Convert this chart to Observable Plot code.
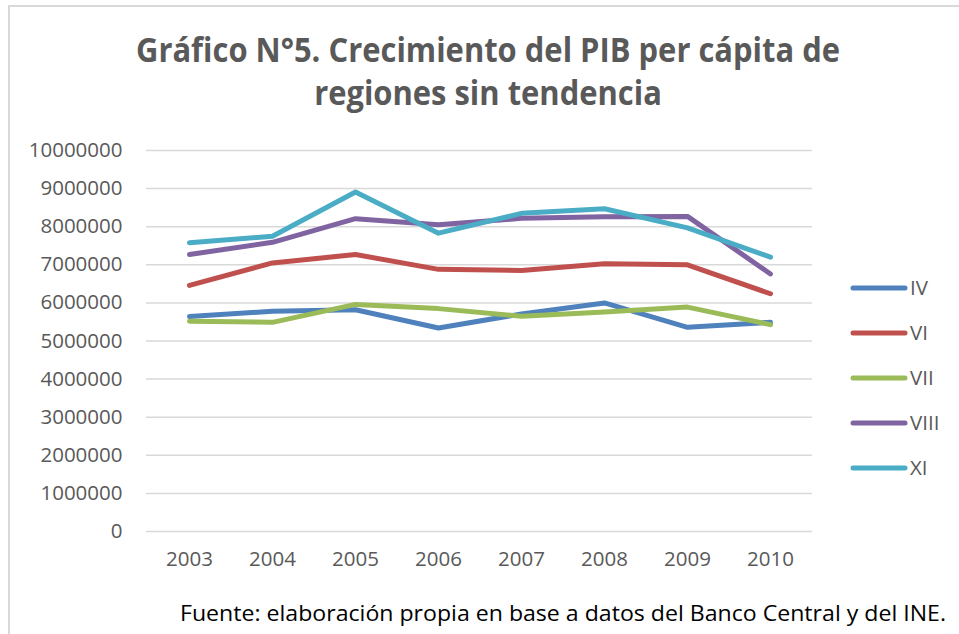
<!DOCTYPE html>
<html>
<head>
<meta charset="utf-8">
<script src="https://cdn.jsdelivr.net/npm/d3@7"></script>
<script src="https://cdn.jsdelivr.net/npm/@observablehq/plot@0.6"></script>
<style>
  html, body { margin: 0; padding: 0; background: #fff; overflow: hidden; }
  #wrap { position: relative; width: 959px; height: 634px; overflow: hidden; background: #fff; }
  #plot { position: absolute; left: 0; top: 130px; }
  #overlay { position: absolute; left: 0; top: 0; }
</style>
</head>
<body>
<div id="wrap">
  <svg id="overlay" width="959" height="634"></svg>
  <div id="plot"></div>
</div>
<script>
const years = ["2003", "2004", "2005", "2006", "2007", "2008", "2009", "2010"];
const regions = ["IV", "VI", "VII", "VIII", "XI"];
const colors = ["#4f81bd", "#c0504d", "#9bbb59", "#8064a2", "#4bacc6"];
const IV   = [5640000, 5780000, 5820000, 5340000, 5710000, 6000000, 5360000, 5490000];
const VI   = [6460000, 7050000, 7270000, 6880000, 6850000, 7030000, 7000000, 6240000];
const VII  = [5520000, 5490000, 5960000, 5850000, 5650000, 5760000, 5890000, 5430000];
const VIII = [7270000, 7590000, 8210000, 8050000, 8220000, 8260000, 8270000, 6760000];
const XI   = [7580000, 7750000, 8910000, 7830000, 8350000, 8470000, 7970000, 7200000];
const yTicks = [0, 1000000, 2000000, 3000000, 4000000, 5000000, 6000000, 7000000, 8000000, 9000000, 10000000];
const titleLines = ["Gráfico N°5. Crecimiento del PIB per cápita de", "regiones sin tendencia"];
const caption = "Fuente: elaboración propia en base a datos del Banco Central y del INE.";

const series = {IV, VI, VII, VIII, XI};
const data = [];
regions.forEach(r => series[r].forEach((v, i) => data.push({region: r, year: years[i], value: v})));

const chart = Plot.plot({
  width: 959,
  height: 460,
  marginTop: 20,
  marginBottom: 59,
  marginLeft: 146,
  marginRight: 147,
  style: {fontFamily: "'Open Sans', sans-serif", fontSize: "20.5px", color: "#595959", background: "transparent"},
  x: {type: "point", domain: years, padding: 0.5},
  y: {domain: [0, 10000000]},
  color: {domain: regions, range: colors},
  marks: [
    Plot.ruleY(yTicks, {stroke: "#d9d9d9", strokeWidth: 1.5}),
    Plot.axisY({ticks: yTicks, tickSize: 0, tickPadding: 24, tickFormat: d => String(d), label: null}),
    Plot.axisX({tickSize: 0, tickPadding: 20, label: null}),
    Plot.line(data, {x: "year", y: "value", z: "region", stroke: "region", strokeWidth: 5, strokeLinejoin: "round", strokeLinecap: "round"})
  ]
});
document.getElementById("plot").appendChild(chart);

// Overlay: border, title, legend, caption
const ov = d3.select("#overlay");
ov.append("path").attr("d", "M9,634V6H959").attr("fill", "none").attr("stroke", "#d9d9d9").attr("stroke-width", 2);

const tFont = "'Open Sans', sans-serif";
const t1 = ov.append("text").attr("x", 488).attr("y", 62).attr("text-anchor", "middle")
  .attr("font-family", tFont).attr("font-weight", "bold").attr("font-size", 34).attr("fill", "#595959")
  .text(titleLines[0]);
const t2 = ov.append("text").attr("x", 488).attr("y", 105).attr("text-anchor", "middle")
  .attr("font-family", tFont).attr("font-weight", "bold").attr("font-size", 34).attr("fill", "#595959")
  .text(titleLines[1]);
// fit title widths to reference proportions
const w1 = t1.node().getComputedTextLength();
const w2 = t2.node().getComputedTextLength();
const k = 704 / w1;
t1.attr("textLength", w1 * k).attr("lengthAdjust", "spacingAndGlyphs");
t2.attr("textLength", w2 * k).attr("lengthAdjust", "spacingAndGlyphs");

const lg = ov.append("g");
regions.forEach((r, i) => {
  const y = 288 + i * 45;
  lg.append("line").attr("x1", 853).attr("x2", 905).attr("y1", y).attr("y2", y)
    .attr("stroke", colors[i]).attr("stroke-width", 5).attr("stroke-linecap", "round");
  lg.append("text").attr("x", 910).attr("y", y).attr("dy", "0.36em")
    .attr("font-family", tFont).attr("font-size", 20.5).attr("fill", "#595959").text(r);
});

const cap = ov.append("text").attr("x", 180).attr("y", 621)
  .attr("font-family", tFont).attr("font-size", 22).attr("fill", "#000").text(caption);
cap.attr("textLength", 766).attr("lengthAdjust", "spacingAndGlyphs");
</script>
</body>
</html>
